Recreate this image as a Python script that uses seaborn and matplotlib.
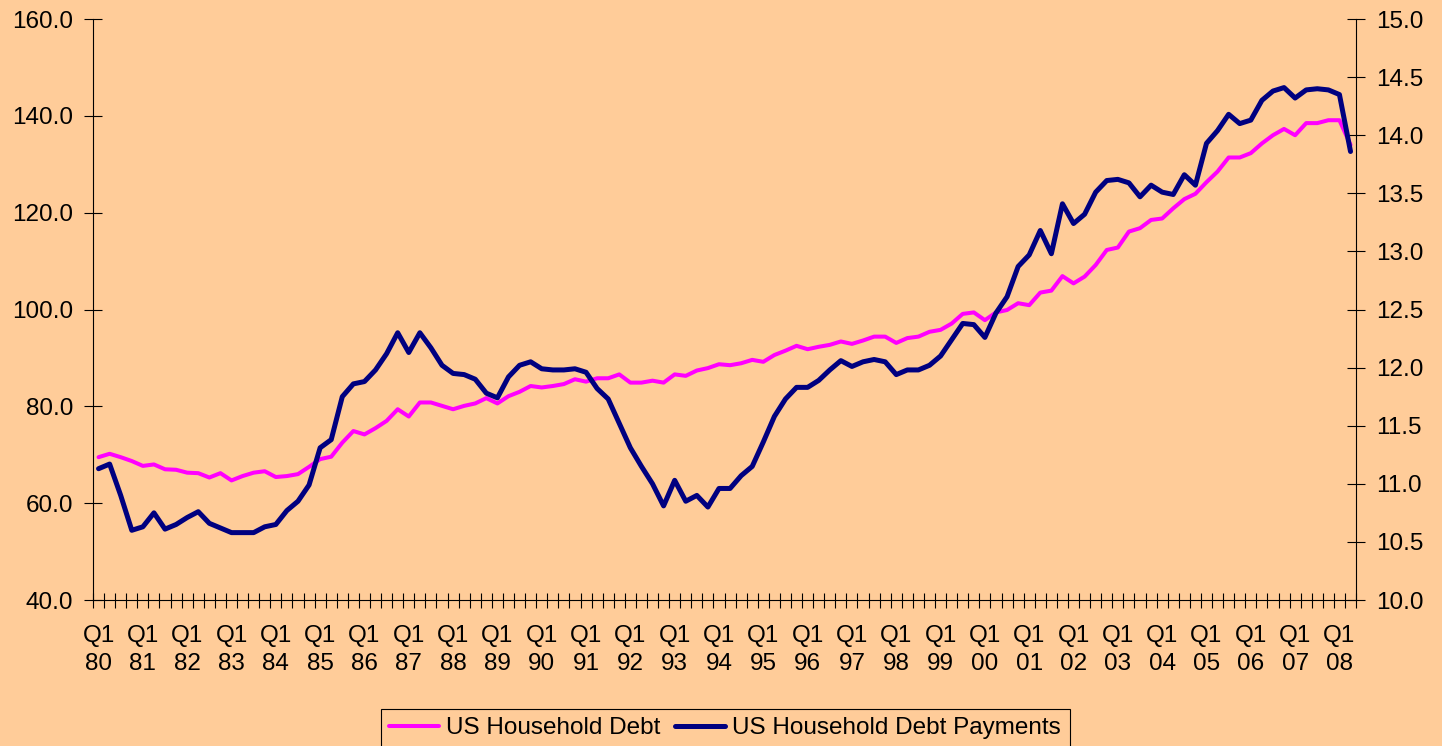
import numpy as np
import pandas as pd
import seaborn as sns
import matplotlib.pyplot as plt
from matplotlib.ticker import FormatStrFormatter, FixedLocator

sns.set_style('white')
plt.rcParams['font.family'] = ['Liberation Sans', 'DejaVu Sans']
plt.rcParams['text.color'] = 'black'
plt.rcParams['xtick.color'] = 'black'
plt.rcParams['ytick.color'] = 'black'

# quarterly data, Q1 1980 .. Q2 2008
years = list(range(1980, 2009))
tick_labels = ['Q1\n%02d' % (y % 100) for y in years]

# US Household Debt (left axis)
debt = [
    69.5, 70.2, 69.5, 68.7,     # 80
    67.7, 68.0, 67.0, 66.9,     # 81
    66.3, 66.2, 65.3, 66.2,     # 82
    64.7, 65.6, 66.3, 66.6,     # 83
    65.4, 65.6, 66.0, 67.5,     # 84
    69.1, 69.6, 72.5, 74.9,     # 85
    74.2, 75.5, 77.0, 79.4,     # 86
    77.9, 80.8, 80.8, 80.1,     # 87
    79.4, 80.1, 80.6, 81.7,     # 88
    80.6, 82.1, 83.0, 84.2,     # 89
    83.9, 84.2, 84.6, 85.6,     # 90
    85.1, 85.8, 85.8, 86.6,     # 91
    84.9, 84.9, 85.3, 84.9,     # 92
    86.6, 86.3, 87.4, 87.9,     # 93
    88.7, 88.5, 88.9, 89.6,     # 94
    89.2, 90.6, 91.5, 92.5,     # 95
    91.8, 92.3, 92.7, 93.4,     # 96
    92.9, 93.6, 94.4, 94.4,     # 97
    93.1, 94.1, 94.4, 95.4,     # 98
    95.8, 97.1, 99.1, 99.4,     # 99
    97.8, 99.4, 99.9, 101.3,    # 00
    100.9, 103.5, 103.9, 106.9, # 01
    105.4, 106.8, 109.2, 112.3, # 02
    112.8, 116.1, 116.8, 118.5, # 03
    118.8, 120.9, 122.8, 123.9, # 04
    126.3, 128.5, 131.4, 131.4, # 05
    132.3, 134.3, 136.0, 137.3, # 06
    136.0, 138.5, 138.5, 139.1, # 07
    139.1, 134.0,               # 08
]

# US Household Debt Payments (right axis)
payments = [
    11.13, 11.17, 10.90, 10.60,  # 80
    10.63, 10.75, 10.61, 10.65,  # 81
    10.71, 10.76, 10.66, 10.62,  # 82
    10.58, 10.58, 10.58, 10.63,  # 83
    10.65, 10.77, 10.85, 10.99,  # 84
    11.31, 11.38, 11.75, 11.86,  # 85
    11.88, 11.98, 12.12, 12.30,  # 86
    12.13, 12.30, 12.17, 12.02,  # 87
    11.95, 11.94, 11.90, 11.78,  # 88
    11.74, 11.92, 12.02, 12.05,  # 89
    11.99, 11.98, 11.98, 11.99,  # 90
    11.96, 11.82, 11.73, 11.52,  # 91
    11.31, 11.15, 11.00, 10.81,  # 92
    11.03, 10.85, 10.90, 10.80,  # 93
    10.96, 10.96, 11.07, 11.15,  # 94
    11.36, 11.58, 11.73, 11.83,  # 95
    11.83, 11.89, 11.98, 12.06,  # 96
    12.01, 12.05, 12.07, 12.05,  # 97
    11.94, 11.98, 11.98, 12.02,  # 98
    12.10, 12.24, 12.38, 12.37,  # 99
    12.26, 12.47, 12.61, 12.87,  # 00
    12.97, 13.18, 12.98, 13.41,  # 01
    13.24, 13.32, 13.51, 13.61,  # 02
    13.62, 13.59, 13.47, 13.57,  # 03
    13.51, 13.49, 13.66, 13.57,  # 04
    13.93, 14.04, 14.18, 14.10,  # 05
    14.13, 14.30, 14.38, 14.41,  # 06
    14.32, 14.39, 14.40, 14.39,  # 07
    14.35, 13.86,                # 08
]

bg = '#FFCC99'
fs = 17.5

df = pd.DataFrame({'q': np.arange(len(debt)), 'debt': debt, 'payments': payments})

fig = plt.figure(figsize=(14.42, 7.46), dpi=100, facecolor=bg)
ax1 = fig.add_axes([0.0645, 0.1957, 0.8759, 0.7788])
ax1.set_facecolor(bg)

sns.lineplot(data=df, x='q', y='debt', ax=ax1, color='#FF00FF', lw=2.9, legend=False)
ax2 = ax1.twinx()
sns.lineplot(data=df, x='q', y='payments', ax=ax2, color='#000080', lw=3.6, legend=False)

n = len(debt)
ax1.set_xlim(-0.5, n - 0.5)
ax1.set_ylim(40, 160)
ax2.set_ylim(10, 15)
ax1.set_yticks(np.arange(40, 161, 20))
ax2.set_yticks(np.arange(10, 15.01, 0.5))
ax1.yaxis.set_major_formatter(FormatStrFormatter('%.1f'))
ax2.yaxis.set_major_formatter(FormatStrFormatter('%.1f'))

ax1.set_xticks(np.arange(0, n, 4))
ax1.set_xticklabels(tick_labels, linespacing=1.33)
ax1.xaxis.set_minor_locator(FixedLocator(np.arange(-0.5, n, 1)))
ax1.tick_params(axis='x', which='major', length=0, pad=18, labelsize=fs, labelcolor='black')
ax1.tick_params(axis='x', which='minor', bottom=True, direction='inout',
                length=10.8, width=0.8, color='black')
ax1.tick_params(axis='y', left=True, direction='inout', length=12.5, width=0.8,
                color='black', pad=8.0, labelsize=fs, labelcolor='black')
ax2.tick_params(axis='y', right=True, direction='inout', length=12.5, width=0.8,
                color='black', pad=8.0, labelsize=fs, labelcolor='black')

for ax in (ax1, ax2):
    ax.set_xlabel('')
    ax.set_ylabel('')
    ax.spines['top'].set_visible(False)
    for s in ax.spines.values():
        s.set_color('black')
        s.set_linewidth(0.8)
ax1.spines['right'].set_visible(False)
ax2.spines['left'].set_visible(False)
ax2.spines['bottom'].set_visible(False)

handles = [ax1.get_lines()[0], ax2.get_lines()[0]]
labels = ['US Household Debt', 'US Household Debt Payments']
leg = fig.legend(handles, labels, loc='center', bbox_to_anchor=(0.5028, 0.0235), ncol=2,
                 frameon=True, fancybox=False, edgecolor='black', facecolor=bg, framealpha=1,
                 fontsize=fs, handlelength=2.05, handletextpad=0.3, columnspacing=0.6,
                 borderpad=0.35, borderaxespad=0)
leg.get_frame().set_linewidth(0.8)

fig.savefig('out.png', dpi=100, facecolor=bg)
